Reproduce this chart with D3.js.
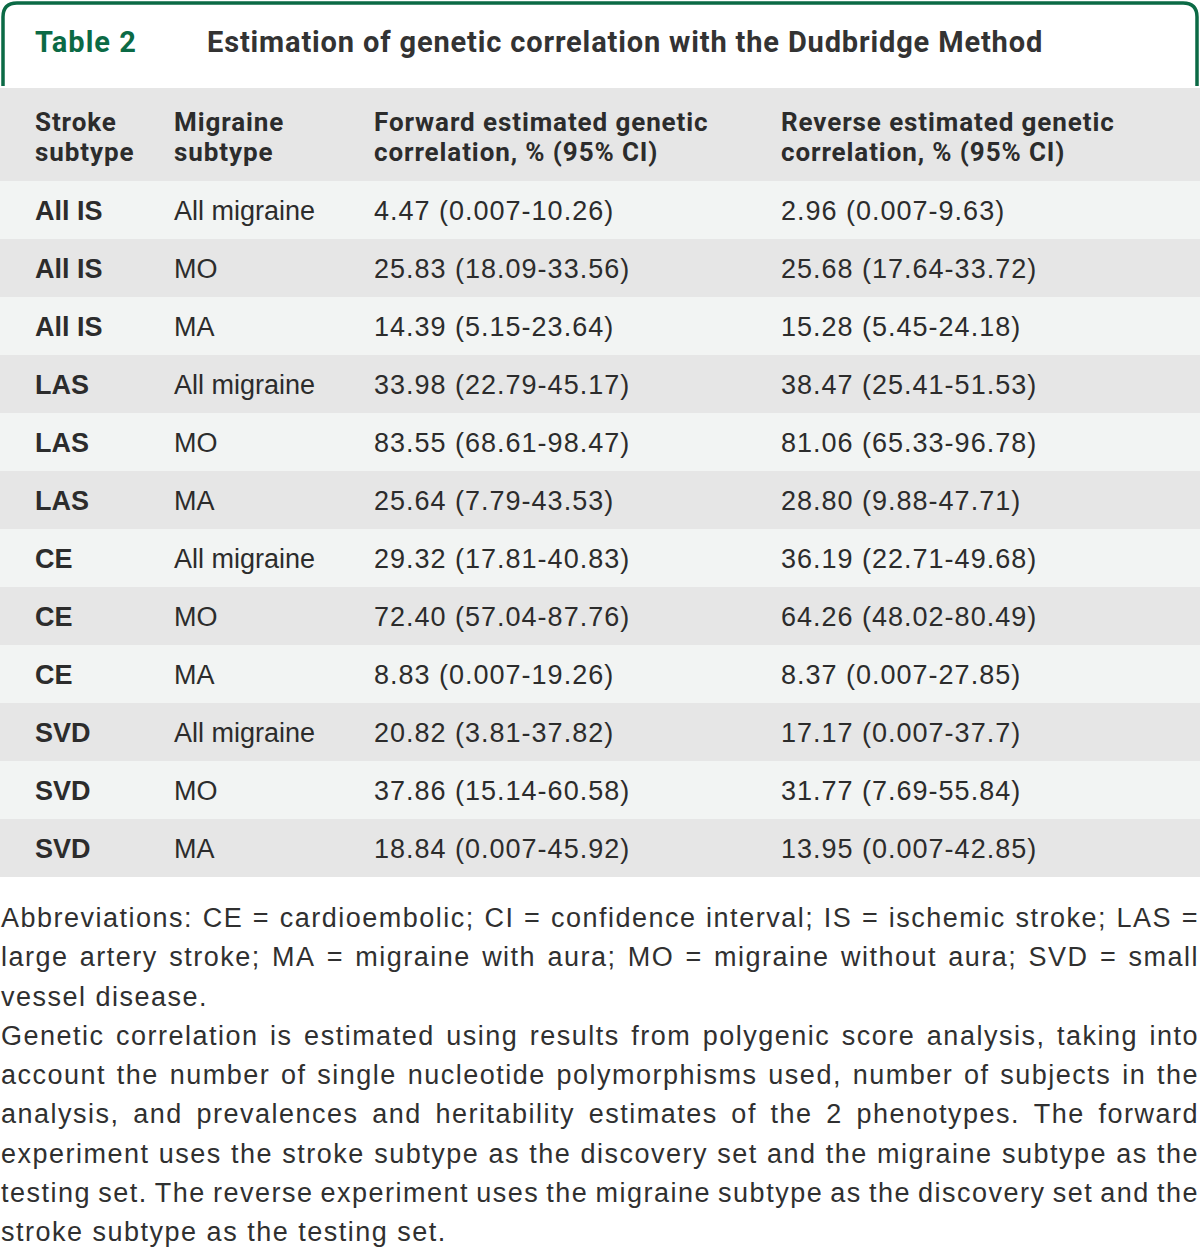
<!DOCTYPE html>
<html>
<head>
<meta charset="utf-8">
<script src="https://cdn.jsdelivr.net/npm/d3@7/dist/d3.min.js"></script>
<style>
  html, body { margin: 0; padding: 0; background: #ffffff; }
  svg { display: block; }
</style>
</head>
<body>
<div id="chart"></div>
<script>
// ---- data ----
const tableLabel = "Table 2";
const tableTitle = "Estimation of genetic correlation with the Dudbridge Method";
const columnHeaders = [
  ["Stroke", "subtype"],
  ["Migraine", "subtype"],
  ["Forward estimated genetic", "correlation, % (95% CI)"],
  ["Reverse estimated genetic", "correlation, % (95% CI)"]
];
const strokeSubtypes = ["All IS", "All IS", "All IS", "LAS", "LAS", "LAS", "CE", "CE", "CE", "SVD", "SVD", "SVD"];
const migraineSubtypes = ["All migraine", "MO", "MA", "All migraine", "MO", "MA", "All migraine", "MO", "MA", "All migraine", "MO", "MA"];
const forwardCorrelation = [
  "4.47 (0.007-10.26)", "25.83 (18.09-33.56)", "14.39 (5.15-23.64)",
  "33.98 (22.79-45.17)", "83.55 (68.61-98.47)", "25.64 (7.79-43.53)",
  "29.32 (17.81-40.83)", "72.40 (57.04-87.76)", "8.83 (0.007-19.26)",
  "20.82 (3.81-37.82)", "37.86 (15.14-60.58)", "18.84 (0.007-45.92)"
];
const reverseCorrelation = [
  "2.96 (0.007-9.63)", "25.68 (17.64-33.72)", "15.28 (5.45-24.18)",
  "38.47 (25.41-51.53)", "81.06 (65.33-96.78)", "28.80 (9.88-47.71)",
  "36.19 (22.71-49.68)", "64.26 (48.02-80.49)", "8.37 (0.007-27.85)",
  "17.17 (0.007-37.7)", "31.77 (7.69-55.84)", "13.95 (0.007-42.85)"
];
const footnoteLines = [
  ["Abbreviations: CE = cardioembolic; CI = confidence interval; IS = ischemic stroke; LAS =", true],
  ["large artery stroke; MA = migraine with aura; MO = migraine without aura; SVD = small", true],
  ["vessel disease.", false],
  ["Genetic correlation is estimated using results from polygenic score analysis, taking into", true],
  ["account the number of single nucleotide polymorphisms used, number of subjects in the", true],
  ["analysis, and prevalences and heritability estimates of the 2 phenotypes. The forward", true],
  ["experiment uses the stroke subtype as the discovery set and the migraine subtype as the", true],
  ["testing set. The reverse experiment uses the migraine subtype as the discovery set and the", true],
  ["stroke subtype as the testing set.", false]
];

// ---- layout ----
const W = 1200, H = 1250;
const green = "#0b6a45";
const textColor = "#2c2c2c";
const headFont = "Roboto, 'Liberation Sans', sans-serif";
const bodyFont = "'Liberation Sans', Arial, sans-serif";

const svg = d3.select("#chart").append("svg").attr("width", W).attr("height", H);

// title tab
svg.append("path")
  .attr("d", "M3,86 V17 Q3,3 17,3 H1183 Q1197,3 1197,17 V86")
  .attr("fill", "none").attr("stroke", green).attr("stroke-width", 3.5);
svg.append("text").attr("x", 35).attr("y", 52)
  .attr("font-family", headFont).attr("font-weight", 700).attr("font-size", 29)
  .attr("letter-spacing", 1)
  .attr("fill", green).text(tableLabel);
svg.append("text").attr("x", 207).attr("y", 52)
  .attr("font-family", headFont).attr("font-weight", 700).attr("font-size", 29)
  .attr("letter-spacing", 0.85)
  .attr("fill", "#333").text(tableTitle);

// columns
const colIdx = d3.range(4);
const colX = d3.scaleOrdinal().domain(colIdx).range([35, 174, 374, 781]);

// header block
svg.append("rect").attr("x", 0).attr("y", 88).attr("width", W).attr("height", 93).attr("fill", "#e6e6e6");
const hdr = svg.append("g");
columnHeaders.forEach((lines, i) => {
  const t = hdr.append("text").attr("x", colX(i)).attr("y", 131)
    .attr("font-family", headFont).attr("font-weight", 700).attr("font-size", 26)
    .attr("letter-spacing", 0.9)
    .attr("fill", textColor);
  lines.forEach((ln, j) => t.append("tspan").attr("x", colX(i)).attr("dy", j === 0 ? 0 : 30).text(ln));
});

// rows
const rowIdx = d3.range(strokeSubtypes.length);
const y = d3.scaleBand().domain(rowIdx).range([181, 877]).paddingInner(0);
const rows = svg.append("g").selectAll("g").data(rowIdx).join("g")
  .attr("transform", d => `translate(0,${y(d)})`);
rows.append("rect").attr("x", 0).attr("y", 0).attr("width", W).attr("height", y.bandwidth())
  .attr("fill", d => d % 2 === 0 ? "#f2f4f3" : "#e6e6e6");
const cellText = [strokeSubtypes, migraineSubtypes, forwardCorrelation, reverseCorrelation];
colIdx.forEach(c => {
  rows.append("text")
    .attr("x", colX(c)).attr("y", y.bandwidth() / 2 + 10)
    .attr("font-family", bodyFont).attr("font-size", 27)
    .attr("font-weight", c === 0 ? 700 : 400)
    .attr("letter-spacing", c >= 2 ? 1 : 0)
    .attr("fill", textColor)
    .text(d => cellText[c][d]);
});

// footnotes (justified)
const fy = d3.scaleLinear().domain([0, footnoteLines.length - 1]).range([927, 1241]);
const foot = svg.append("g").attr("font-family", bodyFont).attr("font-size", 27)
  .attr("letter-spacing", 1.5).attr("fill", "#303030");
footnoteLines.forEach(([line, justify], i) => {
  const words = line.split(" ");
  const g = foot.append("g");
  const nodes = words.map(w => g.append("text").attr("y", fy(i)).text(w));
  const widths = nodes.map(n => n.node().getComputedTextLength());
  const total = d3.sum(widths);
  const spaceW = 9;
  const left = 1, right = 1199;
  const gap = justify ? (right - left - total) / (words.length - 1) : spaceW;
  let x = left;
  nodes.forEach((n, k) => { n.attr("x", x); x += widths[k] + gap; });
});
</script>
</body>
</html>
